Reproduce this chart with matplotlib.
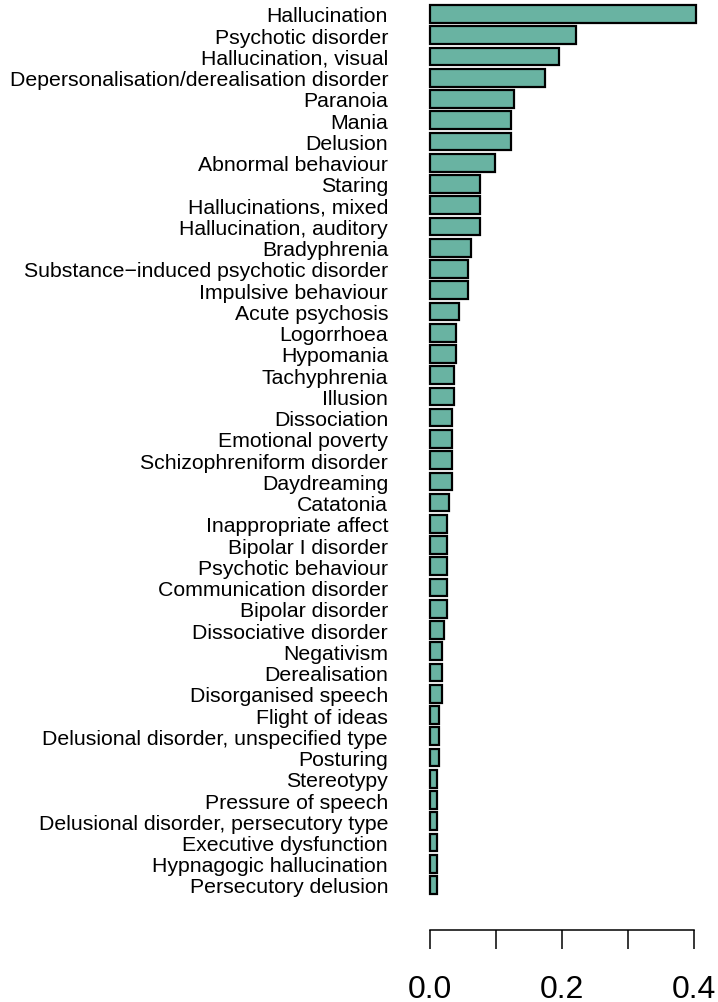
import numpy as np
import matplotlib
matplotlib.use("Agg")
import matplotlib.pyplot as plt

# categories, top to bottom
terms = [
    "Hallucination", "Psychotic disorder", "Hallucination, visual",
    "Depersonalisation/derealisation disorder", "Paranoia", "Mania", "Delusion",
    "Abnormal behaviour", "Staring", "Hallucinations, mixed",
    "Hallucination, auditory", "Bradyphrenia",
    "Substance\u2212induced psychotic disorder", "Impulsive behaviour",
    "Acute psychosis", "Logorrhoea", "Hypomania", "Tachyphrenia", "Illusion",
    "Dissociation", "Emotional poverty", "Schizophreniform disorder",
    "Daydreaming", "Catatonia", "Inappropriate affect", "Bipolar I disorder",
    "Psychotic behaviour", "Communication disorder", "Bipolar disorder",
    "Dissociative disorder", "Negativism", "Derealisation",
    "Disorganised speech", "Flight of ideas",
    "Delusional disorder, unspecified type", "Posturing", "Stereotypy",
    "Pressure of speech", "Delusional disorder, persecutory type",
    "Executive dysfunction", "Hypnagogic hallucination", "Persecutory delusion",
]

# proportions
props = [
    0.403, 0.221, 0.196, 0.174, 0.127, 0.123, 0.1235, 0.098, 0.0765, 0.0765,
    0.0765, 0.062, 0.058, 0.058, 0.0438, 0.0403, 0.0403, 0.0363, 0.0363,
    0.0333, 0.0333, 0.0333, 0.0333, 0.0292, 0.0257, 0.0257, 0.0257, 0.0257,
    0.0257, 0.0222, 0.0186, 0.0186, 0.0186, 0.0146, 0.0146, 0.0146, 0.0116,
    0.0116, 0.0116, 0.0116, 0.0116, 0.0116,
]

xticks = [0.0, 0.1, 0.2, 0.3, 0.4]
xticklabels = ["0.0", "", "0.2", "", "0.4"]

plt.rcParams["font.family"] = ["Liberation Sans", "DejaVu Sans"]

W, H = 718, 1003
fig = plt.figure(figsize=(W / 100, H / 100), dpi=100)
# axes box in pixels: x 419..707, y 0..931 (from top)
ax = fig.add_axes([419 / W, (H - 931) / H, (707 - 419) / W, 931 / H])

ypos = np.arange(len(terms))
ax.barh(ypos, props, height=1 / 1.2, color="#69b3a2",
        edgecolor="black", linewidth=1.6, clip_on=False)

ax.set_xlim(-0.01618, 0.4192)
ax.set_ylim(43.119, -0.706)

ax.set_yticks(ypos)
ax.set_yticklabels(terms, fontsize=15.3)
ax.tick_params(axis="y", length=0, pad=22.3)

ax.set_xticks(xticks)
ax.set_xticklabels(xticklabels, fontsize=23)
ax.tick_params(axis="x", length=13.7, width=1.1, pad=18)

for s in ["top", "right", "left"]:
    ax.spines[s].set_visible(False)
ax.spines["bottom"].set_bounds(0, 0.4)
ax.spines["bottom"].set_linewidth(1.1)

fig.savefig("out.png", dpi=100)
